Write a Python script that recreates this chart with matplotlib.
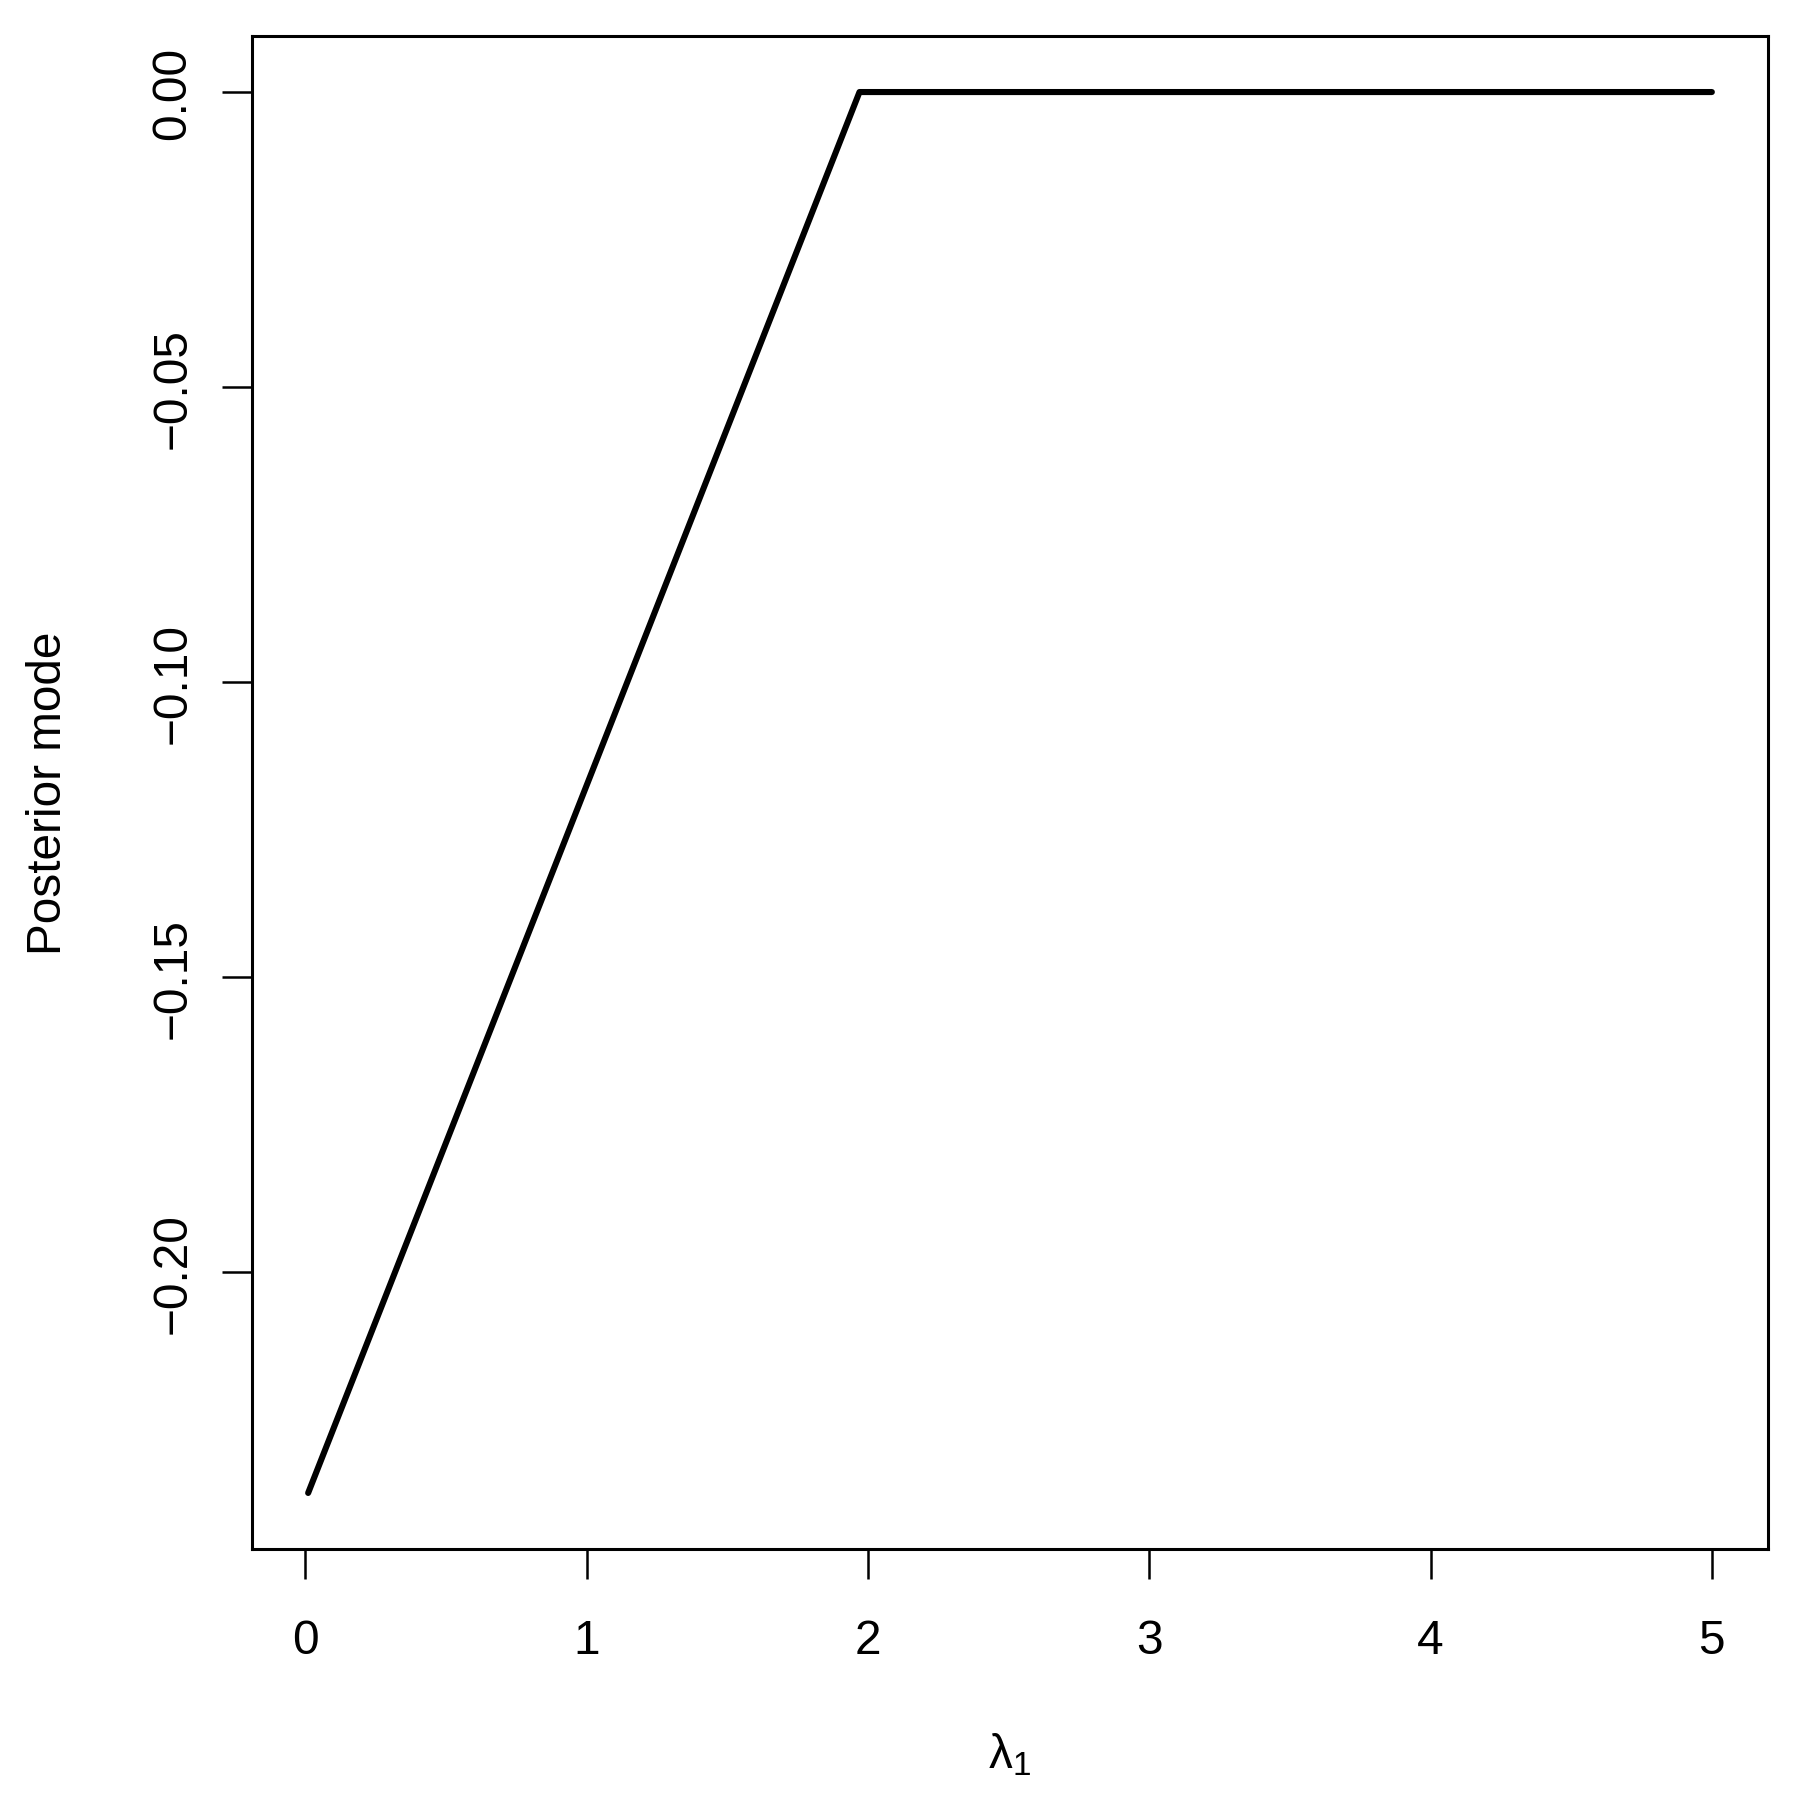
import matplotlib
matplotlib.use("Agg")
import matplotlib.pyplot as plt

plt.rcParams['font.family'] = ['Liberation Sans', 'DejaVu Sans']
plt.rcParams['mathtext.fontset'] = 'custom'
plt.rcParams['mathtext.rm'] = 'Liberation Sans'

# 曲線のデータ
lam = [0.01, 1.97, 5.0]
mode = [-0.2374, 0.0, 0.0]

x_ticks = [0, 1, 2, 3, 4, 5]
y_ticks = [0.00, -0.05, -0.10, -0.15, -0.20]
y_labels = ["0.00", "\u22120.05", "\u22120.10", "\u22120.15", "\u22120.20"]

W, H = 1804, 1808
fig = plt.figure(figsize=(W / 200, H / 200), dpi=200)
ax = fig.add_axes([252 / W, 1 - 1550 / H, (1768 - 252) / W, (1550 - 37) / H])

ax.plot(lam, mode, color="black", lw=2.2, solid_capstyle="round", solid_joinstyle="round")

# R風の軸範囲（4%拡張）
xr = lam[-1] - lam[0]
yr = max(mode) - min(mode)
ax.set_xlim(lam[0] - 0.04 * xr, lam[-1] + 0.04 * xr)
ax.set_ylim(min(mode) - 0.04 * yr, max(mode) + 0.04 * yr)

fs = 17.2
ax.set_xticks(x_ticks)
ax.set_xticklabels([str(t) for t in x_ticks])
ax.set_yticks(y_ticks)
ax.set_yticklabels(y_labels, rotation=90, va="center")

for s in ax.spines.values():
    s.set_linewidth(1.1)
ax.tick_params(axis="both", length=10.8, width=0.9, labelsize=fs, color="black")
ax.tick_params(axis="x", pad=14)
ax.tick_params(axis="y", pad=9.5)

ax.set_xlabel(r"$\mathregular{λ_1}$", fontsize=fs)
ax.set_ylabel("Posterior mode", fontsize=fs)
ax.xaxis.set_label_coords(0.5, -0.1196)
ax.yaxis.set_label_coords(-0.1194, 0.5)

fig.savefig("out.png", dpi=200, facecolor="white")
